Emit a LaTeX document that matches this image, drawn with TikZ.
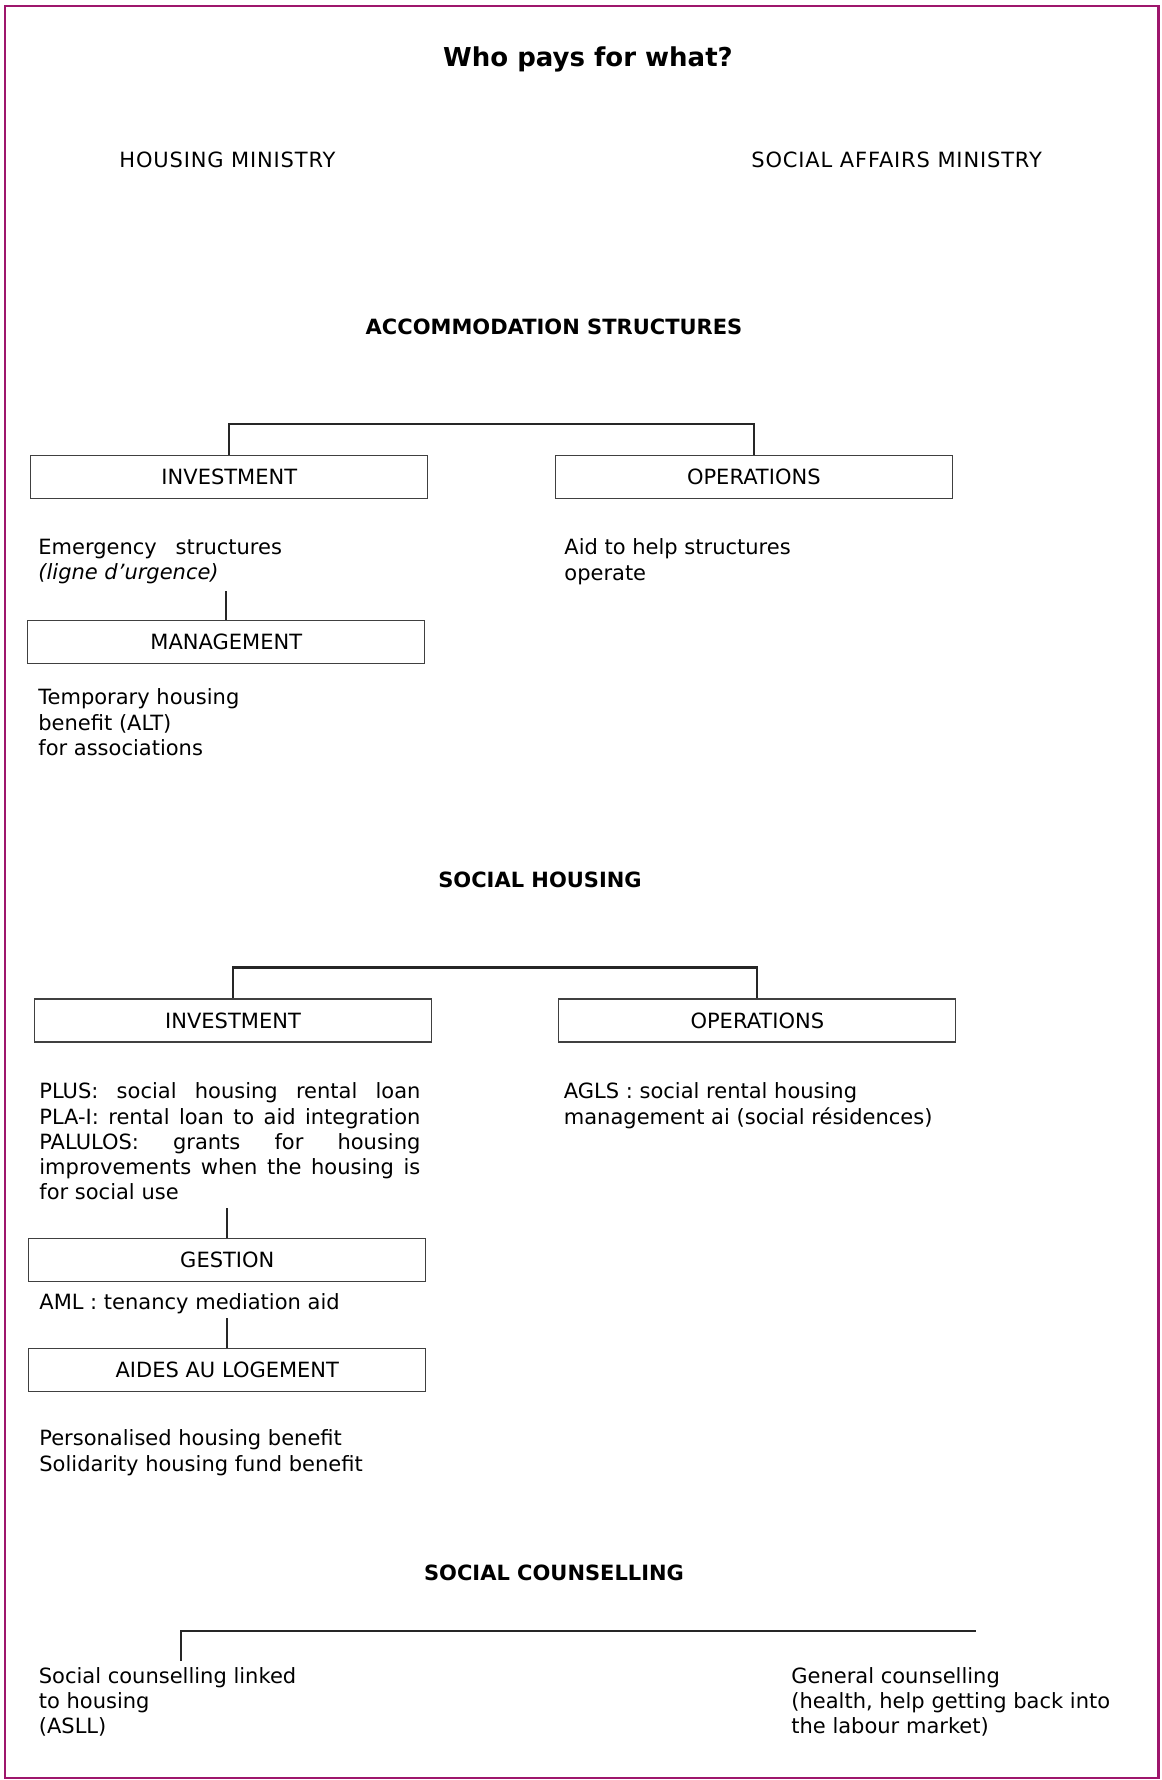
\documentclass[tikz,border=0pt]{standalone}
\usepackage{fontspec}
\setmainfont{DejaVu Sans}
\usepackage{xcolor}
\usepackage{tikz}
\definecolor{frame}{RGB}{158,22,108}
\tolerance=10000
\hbadness=10000

\begin{document}
\begin{tikzpicture}[x=0.5pt,y=-0.5pt,
    every node/.style={inner sep=0pt, font=\fontsize{10.5}{12.6}\selectfont},
    heading/.style={font=\fontsize{10.5}{12.6}\selectfont\bfseries},
    ministry/.style={anchor=west, font=\fontsize{10.5}{12.6}\selectfont\addfontfeatures{LetterSpace=4}},
    box/.style={draw=black!75, line width=0.6pt, minimum width=198.5pt, minimum height=21.5pt},
    info/.style={anchor=north west, align=left},
    link/.style={draw=black!85, line width=1.1pt}]
    \useasboundingbox (0,0) rectangle (1161,1780);

    % Frame
    \draw [frame, line width=1.2pt] (5,6) rectangle (1158.5,1778);

    % Title and ministries
    \node [font=\fontsize{13}{15.6}\selectfont\bfseries] (title) at (588,59) {Who pays for what?};
    \node [ministry] (housmin) at (119,160) {HOUSING MINISTRY};
    \node [ministry] (socmin) at (751,160) {SOCIAL AFFAIRS MINISTRY};

    % Accommodation structures
    \node [heading] (accom) at (554,327) {ACCOMMODATION STRUCTURES};
    \node [box] (inv1) at (229.3,477) {INVESTMENT};
    \node [box] (ops1) at (753.8,477) {OPERATIONS};
    \draw [link] (inv1.north) -- ++(0,-30.5) -| (ops1.north);
    \node [info] (emerg) at (38,538.5) {Emergency\hspace{0.9em}structures\\\textit{(ligne d’urgence)}};
    \node [info] (aidops) at (564,538.5) {Aid to help structures\\operate};
    \node [box] (mgmt) at (226.3,642) {MANAGEMENT};
    \draw [link] (mgmt.north) -- ++(0,-29);
    \node [info] (alt) at (38,688.5) {Temporary housing\\benefit (ALT)\\for associations};

    % Social housing
    \node [heading] (sochous) at (540,880) {SOCIAL HOUSING};
    \node [box] (inv2) at (233,1020.5) {INVESTMENT};
    \node [box] (ops2) at (757.3,1020.5) {OPERATIONS};
    \draw [link] (inv2.north) -- ++(0,-31) -| (ops2.north);
    \node [info, text width=190.5pt, align=justify] (plus) at (39,1082.5)
        {PLUS: social housing rental loan\linebreak
         PLA-I: rental loan to aid integration\linebreak
         PALULOS: grants for housing\linebreak
         improvements when the housing is\linebreak
         for social use};
    \node [info] (agls) at (563.5,1082.5) {AGLS : social rental housing\\management ai (social résidences)};
    \node [box] (gest) at (227.3,1260) {GESTION};
    \draw [link] (gest.north) -- ++(0,-29.5);
    \node [info] (aml) at (39,1293.5) {AML : tenancy mediation aid};
    \node [box] (aides) at (227.3,1370) {AIDES AU LOGEMENT};
    \draw [link] (aides.north) -- ++(0,-29.5);
    \node [info] (benef) at (39,1429.5) {Personalised housing benefit\\Solidarity housing fund benefit};

    % Social counselling
    \node [heading] (soccoun) at (554,1573) {SOCIAL COUNSELLING};
    \coordinate (scL) at (181,1661);
    \coordinate (scR) at (976,1631);
    \draw [link] (scL) |- (scR);
    \node [info] (asll) at (38.5,1667) {Social counselling linked\\to housing\\(ASLL)};
    \node [info] (gencoun) at (791,1667) {General counselling\\(health, help getting back into\\the labour market)};
\end{tikzpicture}
\end{document}
